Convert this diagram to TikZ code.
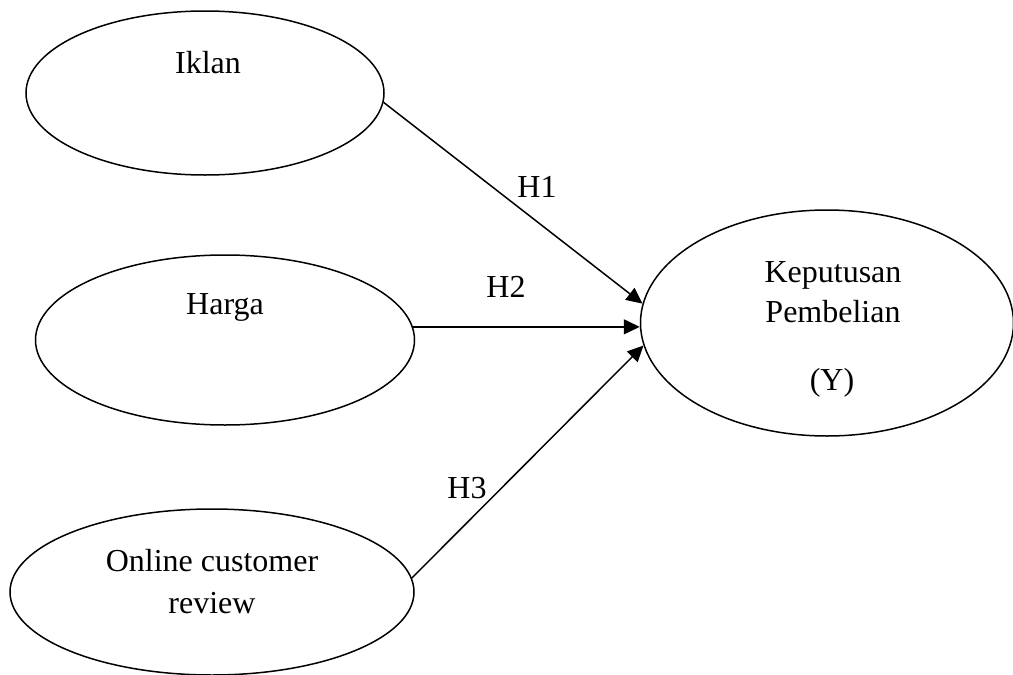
\documentclass[tikz,border=0pt]{standalone}
\usepackage{fontspec}
\setmainfont{Liberation Serif}
\usetikzlibrary{shapes.geometric,arrows.meta}
\begin{document}
\begin{tikzpicture}[x=1pt,y=-1pt,
  oval/.style={draw,ellipse,line width=1.5pt,inner sep=0pt},
  lbl/.style={font=\fontsize{32}{38}\selectfont,inner sep=0pt,align=center},
  conn/.style={line width=1.5pt,-{Triangle[length=16pt,width=15pt]}}]
\useasboundingbox (0,0) rectangle (1013,675);
\node[oval,minimum width=358pt,minimum height=164pt] (iklan) at (205,93) {};
\node[oval,minimum width=379pt,minimum height=170pt] (harga) at (225,340) {};
\node[oval,minimum width=404pt,minimum height=166pt] (online) at (212,592) {};
\node[oval,minimum width=373pt,minimum height=226pt] (kep) at (827,323) {};
\node[lbl] (t1) at (208,63) {Iklan};
\node[lbl] (t2) at (225,307) {Harga};
\node[lbl] (t3) at (212,582) {Online customer\\[4pt]review};
\node[lbl] (t4) at (833,292) {Keputusan\\[2pt]Pembelian};
\node[lbl] (t5) at (832,383) {(Y)};
\draw[conn] (iklan.-3) -- (kep.174.6);
\draw[conn] (harga.4.2) -- (harga.4.2 -| kep.west);
\draw[conn] (online.4.2) -- (kep.187.6);
\node[lbl] (l1) at (537,187) {H1};
\node[lbl] (l2) at (506,287) {H2};
\node[lbl] (l3) at (467,488) {H3};
\end{tikzpicture}
\end{document}
